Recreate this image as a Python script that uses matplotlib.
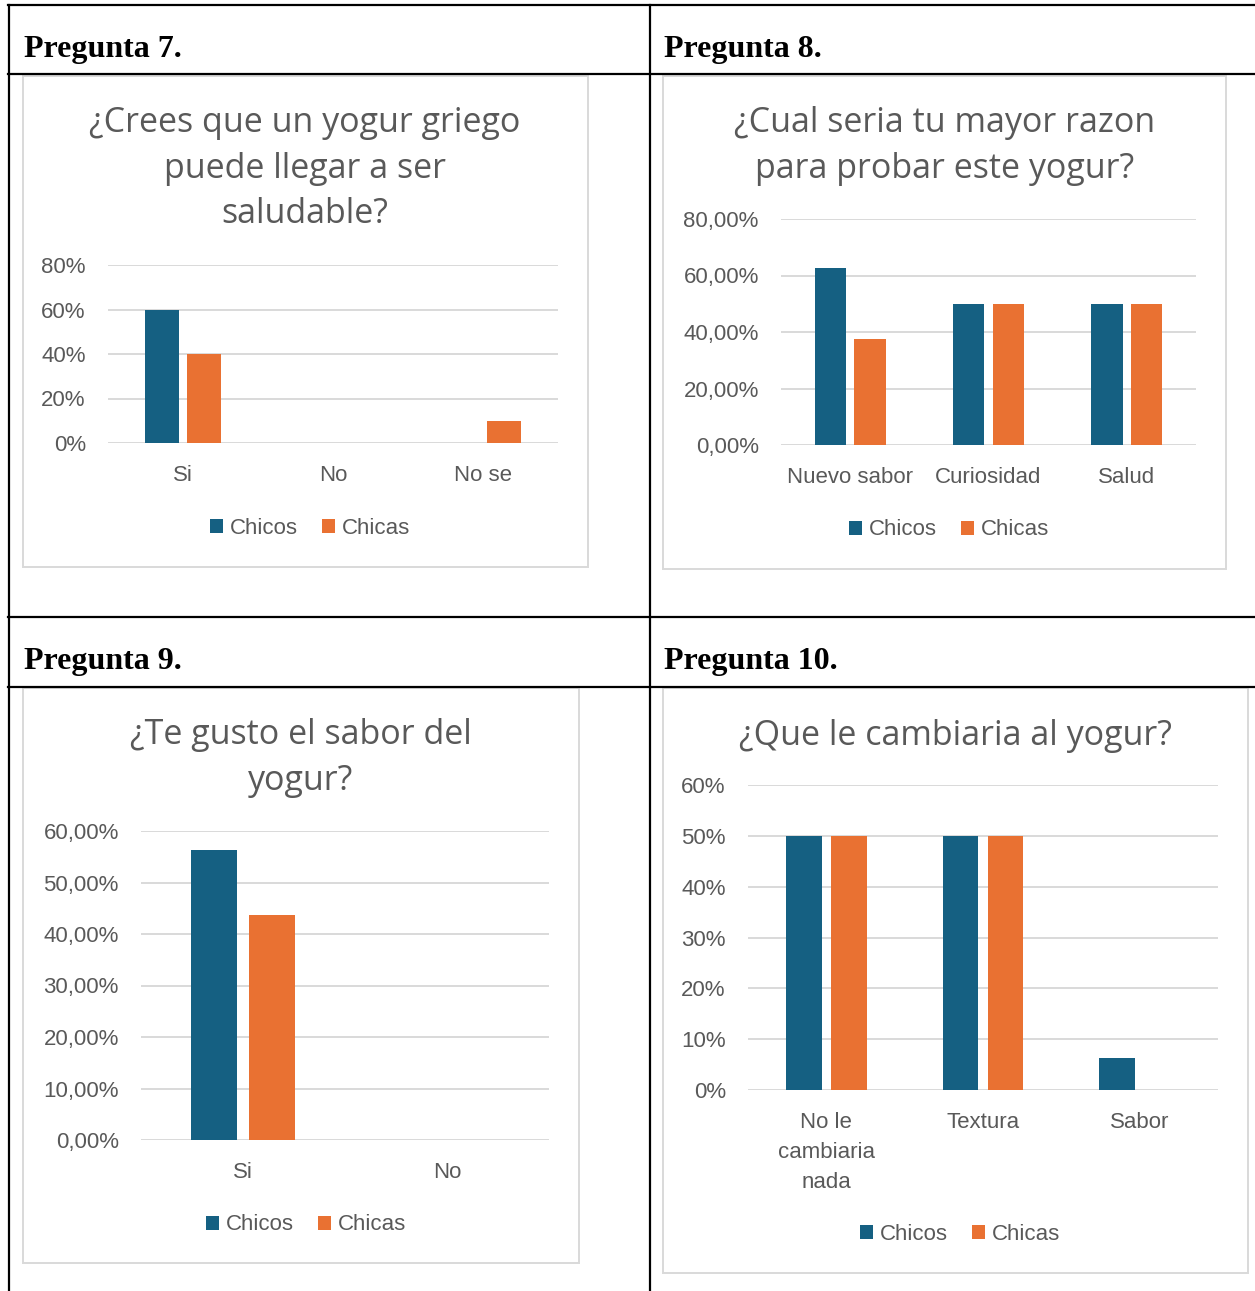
import matplotlib
matplotlib.use("Agg")
import matplotlib.pyplot as plt
import numpy as np
from matplotlib.patches import Rectangle
from matplotlib.lines import Line2D

# Datos de las cuatro preguntas
p7_cats = ['Si', 'No', 'No se']
p7_chicos = [60, 0, 0]
p7_chicas = [40, 0, 10]
p7_ticks = [0, 20, 40, 60, 80]
p7_ticklabels = ['0%', '20%', '40%', '60%', '80%']

p8_cats = ['Nuevo sabor', 'Curiosidad', 'Salud']
p8_chicos = [62.5, 50, 50]
p8_chicas = [37.5, 50, 50]
p8_ticks = [0, 20, 40, 60, 80]
p8_ticklabels = ['0,00%', '20,00%', '40,00%', '60,00%', '80,00%']

p9_cats = ['Si', 'No']
p9_chicos = [56.25, 0]
p9_chicas = [43.75, 0]
p9_ticks = [0, 10, 20, 30, 40, 50, 60]
p9_ticklabels = ['0,00%', '10,00%', '20,00%', '30,00%', '40,00%', '50,00%', '60,00%']

p10_cats = ['No le\ncambiaria\nnada', 'Textura', 'Sabor']
p10_chicos = [50, 50, 6.25]
p10_chicas = [50, 50, 0]
p10_ticks = [0, 10, 20, 30, 40, 50, 60]
p10_ticklabels = ['0%', '10%', '20%', '30%', '40%', '50%', '60%']

series_names = ['Chicos', 'Chicas']
blue = '#156082'
orange = '#E97132'
gray_txt = '#595959'
grid_col = '#D9D9D9'

W, H = 1255, 1291
fig = plt.figure(figsize=(W / 100, H / 100), dpi=100)
plt.rcParams['font.family'] = ['Liberation Sans', 'DejaVu Sans']


def fx(x):
    return x / W


def fy(y):
    return 1 - y / H


def hline(x0, x1, y, **kw):
    fig.add_artist(Line2D([fx(x0), fx(x1)], [fy(y), fy(y)], transform=fig.transFigure, **kw))


def vline(x, y0, y1, **kw):
    fig.add_artist(Line2D([fx(x), fx(x)], [fy(y0), fy(y1)], transform=fig.transFigure, **kw))


# Tabla
tk = dict(color='black', lw=1.6)
hline(8, 1255, 5, **tk)
hline(8, 1255, 74, **tk)
hline(8, 1255, 617, **tk)
hline(8, 1255, 687, **tk)
vline(9, 5, 1291, **tk)
vline(650, 5, 1291, **tk)

hdr = dict(fontfamily='Liberation Serif', fontweight='bold', fontsize=23, va='center', ha='left', color='black')
fig.text(fx(24), fy(50), 'Pregunta 7.', **hdr)
fig.text(fx(664), fy(50), 'Pregunta 8.', **hdr)
fig.text(fx(24), fy(661), 'Pregunta 9.', **hdr)
fig.text(fx(664), fy(661), 'Pregunta 10.', **hdr)


def chart(box, plot, cats, chicos, chicas, ticks, ticklabels, title, title_y, title_x, legend_xy):
    bx0, by0, bx1, by1 = box
    fig.add_artist(Rectangle((fx(bx0), fy(by1)), fx(bx1) - fx(bx0), fy(by0) - fy(by1),
                             transform=fig.transFigure, fill=False, edgecolor=grid_col, lw=1.4))
    px0, py0, px1, py1 = plot
    ax = fig.add_axes([fx(px0), fy(py1), fx(px1) - fx(px0), fy(py0) - fy(py1)])
    x = np.arange(len(cats))
    w = 0.227
    b1 = ax.bar(x - 0.143, chicos, w, color=blue, zorder=3)
    b2 = ax.bar(x + 0.143, chicas, w, color=orange, zorder=3)
    ax.set_xlim(-0.5, len(cats) - 0.5)
    ax.set_ylim(ticks[0], ticks[-1])
    ax.set_yticks(ticks)
    ax.set_yticklabels(ticklabels)
    ax.set_xticks(x)
    ax.set_xticklabels(cats, linespacing=1.55, va='top')
    for s in ax.spines.values():
        s.set_visible(False)
    ax.yaxis.grid(True, color=grid_col, lw=1.4, zorder=0)
    ax.set_axisbelow(True)
    ax.tick_params(axis='both', length=0, labelsize=16, labelcolor=gray_txt)
    ax.tick_params(axis='y', pad=16)
    ax.tick_params(axis='x', pad=16)
    ax.patch.set_visible(False)
    fig.text(fx(title_x), fy(title_y), title, ha='center', va='center', fontsize=24.5,
             fontfamily='Open Sans', color=gray_txt, linespacing=1.45)
    fig.legend([b1, b2], series_names, loc='center', bbox_to_anchor=(fx(legend_xy[0]), fy(legend_xy[1])),
               ncol=2, frameon=False, fontsize=16, labelcolor=gray_txt, handlelength=0.6,
               handleheight=0.6, handletextpad=0.3, columnspacing=1.1)
    return ax


chart((23, 76, 588, 567), (108, 265, 558, 443), p7_cats, p7_chicos, p7_chicas, p7_ticks, p7_ticklabels,
      '¿Crees que un yogur griego\npuede llegar a ser\nsaludable?', 168.5, 305, (310, 528))
chart((663, 76, 1226, 569), (781, 219, 1196, 445), p8_cats, p8_chicos, p8_chicas, p8_ticks, p8_ticklabels,
      '¿Cual seria tu mayor razon\npara probar este yogur?', 146, 945, (949, 530))
chart((23, 688, 579, 1263), (141, 831, 549, 1140), p9_cats, p9_chicos, p9_chicas, p9_ticks, p9_ticklabels,
      '¿Te gusto el sabor del\nyogur?', 758, 301, (306, 1225))
chart((663, 688, 1248, 1273), (748, 785, 1218, 1090), p10_cats, p10_chicos, p10_chicas, p10_ticks,
      p10_ticklabels, '¿Que le cambiaria al yogur?', 735.5, 955, (960, 1234))

fig.savefig('out.png', dpi=100)
